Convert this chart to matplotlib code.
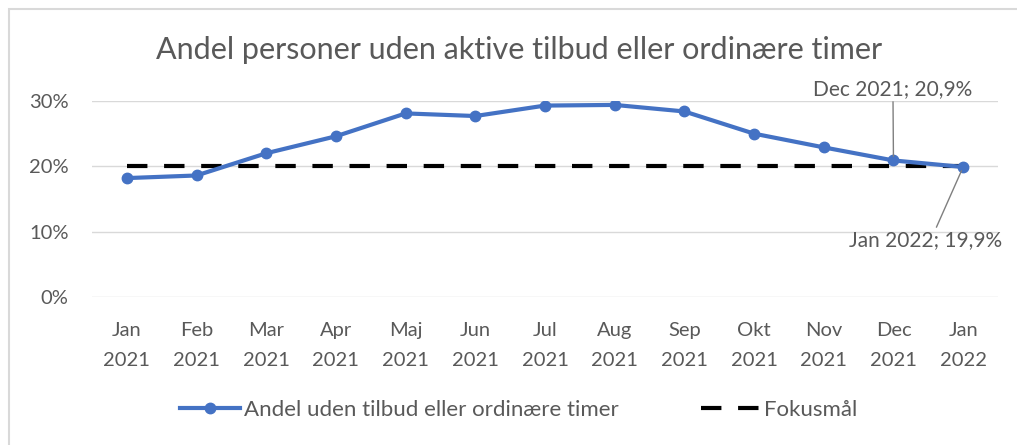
import matplotlib
matplotlib.use("Agg")
import matplotlib.pyplot as plt
from matplotlib.patches import Rectangle

months = ["Jan\n2021", "Feb\n2021", "Mar\n2021", "Apr\n2021", "Maj\n2021", "Jun\n2021",
          "Jul\n2021", "Aug\n2021", "Sep\n2021", "Okt\n2021", "Nov\n2021", "Dec\n2021",
          "Jan\n2022"]
andel = [18.2, 18.6, 22.0, 24.6, 28.1, 27.7, 29.3, 29.4, 28.4, 25.0, 22.9, 20.9, 19.9]
fokus = [20.0] * 13
yticks = [0, 10, 20, 30]
ytick_labels = ["0%", "10%", "20%", "30%"]
title = "Andel personer uden aktive tilbud eller ordinære timer"
series_names = ["Andel uden tilbud eller ordinære timer", "Fokusmål"]

plt.rcParams['font.family'] = ['Lato', 'DejaVu Sans']
gray = "#595959"

fig = plt.figure(figsize=(10.17, 4.45), dpi=100)
fig.patches.append(Rectangle((9/1017, -0.1), 1.2, (445 - 9)/445 + 0.1,
                             transform=fig.transFigure, fill=False,
                             edgecolor="#d9d9d9", linewidth=1.5))
ax = fig.add_axes([92/1017, 1 - 297/445, (998 - 92)/1017, (297 - 101)/445])
x = list(range(len(months)))
ax.plot(x, fokus, color="black", linestyle=(0, (4.9, 4.0)), linewidth=3.0,
        label=series_names[1], zorder=2)
ax.plot(x, andel, color="#4472C4", linewidth=3.0, marker="o", markersize=7.5,
        label=series_names[0], zorder=3)
ax.set_xlim(-0.5, len(months) - 0.5)
ax.set_ylim(0, 30)
ax.set_yticks(yticks)
ax.set_yticklabels(ytick_labels)
ax.set_xticks(x)
ax.set_xticklabels(months, linespacing=1.95)
ax.grid(axis="y", color="#d9d9d9", linewidth=1)
ax.set_axisbelow(True)
for s in ax.spines.values():
    s.set_visible(False)
ax.tick_params(length=0, colors=gray, labelsize=14.5)
ax.tick_params(axis="y", pad=17)
ax.tick_params(axis="x", pad=18)
for lab in ax.get_yticklabels() + ax.get_xticklabels():
    lab.set_color(gray)

fig.text(519/1017, 1 - 50/445, title, ha="center", va="center", fontsize=22, color=gray)

# data labels
ax.annotate("Dec 2021; 20,9%", xy=(11, andel[11]), xytext=(893/1017, 1 - 99/445),
            textcoords="figure fraction", ha="center", va="bottom", fontsize=15, color=gray,
            arrowprops=dict(arrowstyle="-", color="#7f7f7f", lw=1, shrinkA=0, shrinkB=3,
                            relpos=(0.5, 0)))
ax.annotate("Jan 2022; 19,9%", xy=(12, andel[12]), xytext=(926/1017, 1 - 230/445),
            textcoords="figure fraction", ha="center", va="top", fontsize=15, color=gray,
            arrowprops=dict(arrowstyle="-", color="#7f7f7f", lw=1, shrinkA=0, shrinkB=3,
                            relpos=(0.56, 1)))

h, l = ax.get_legend_handles_labels()
leg = fig.legend([h[1], h[0]], [l[1], l[0]], loc="center", bbox_to_anchor=(0.51, 1 - 410/445),
                 ncol=2, frameon=False, fontsize=16, handlelength=2.7, columnspacing=3.7,
                 handletextpad=0.15)
for t in leg.get_texts():
    t.set_color(gray)

fig.savefig("out.png", dpi=100)
